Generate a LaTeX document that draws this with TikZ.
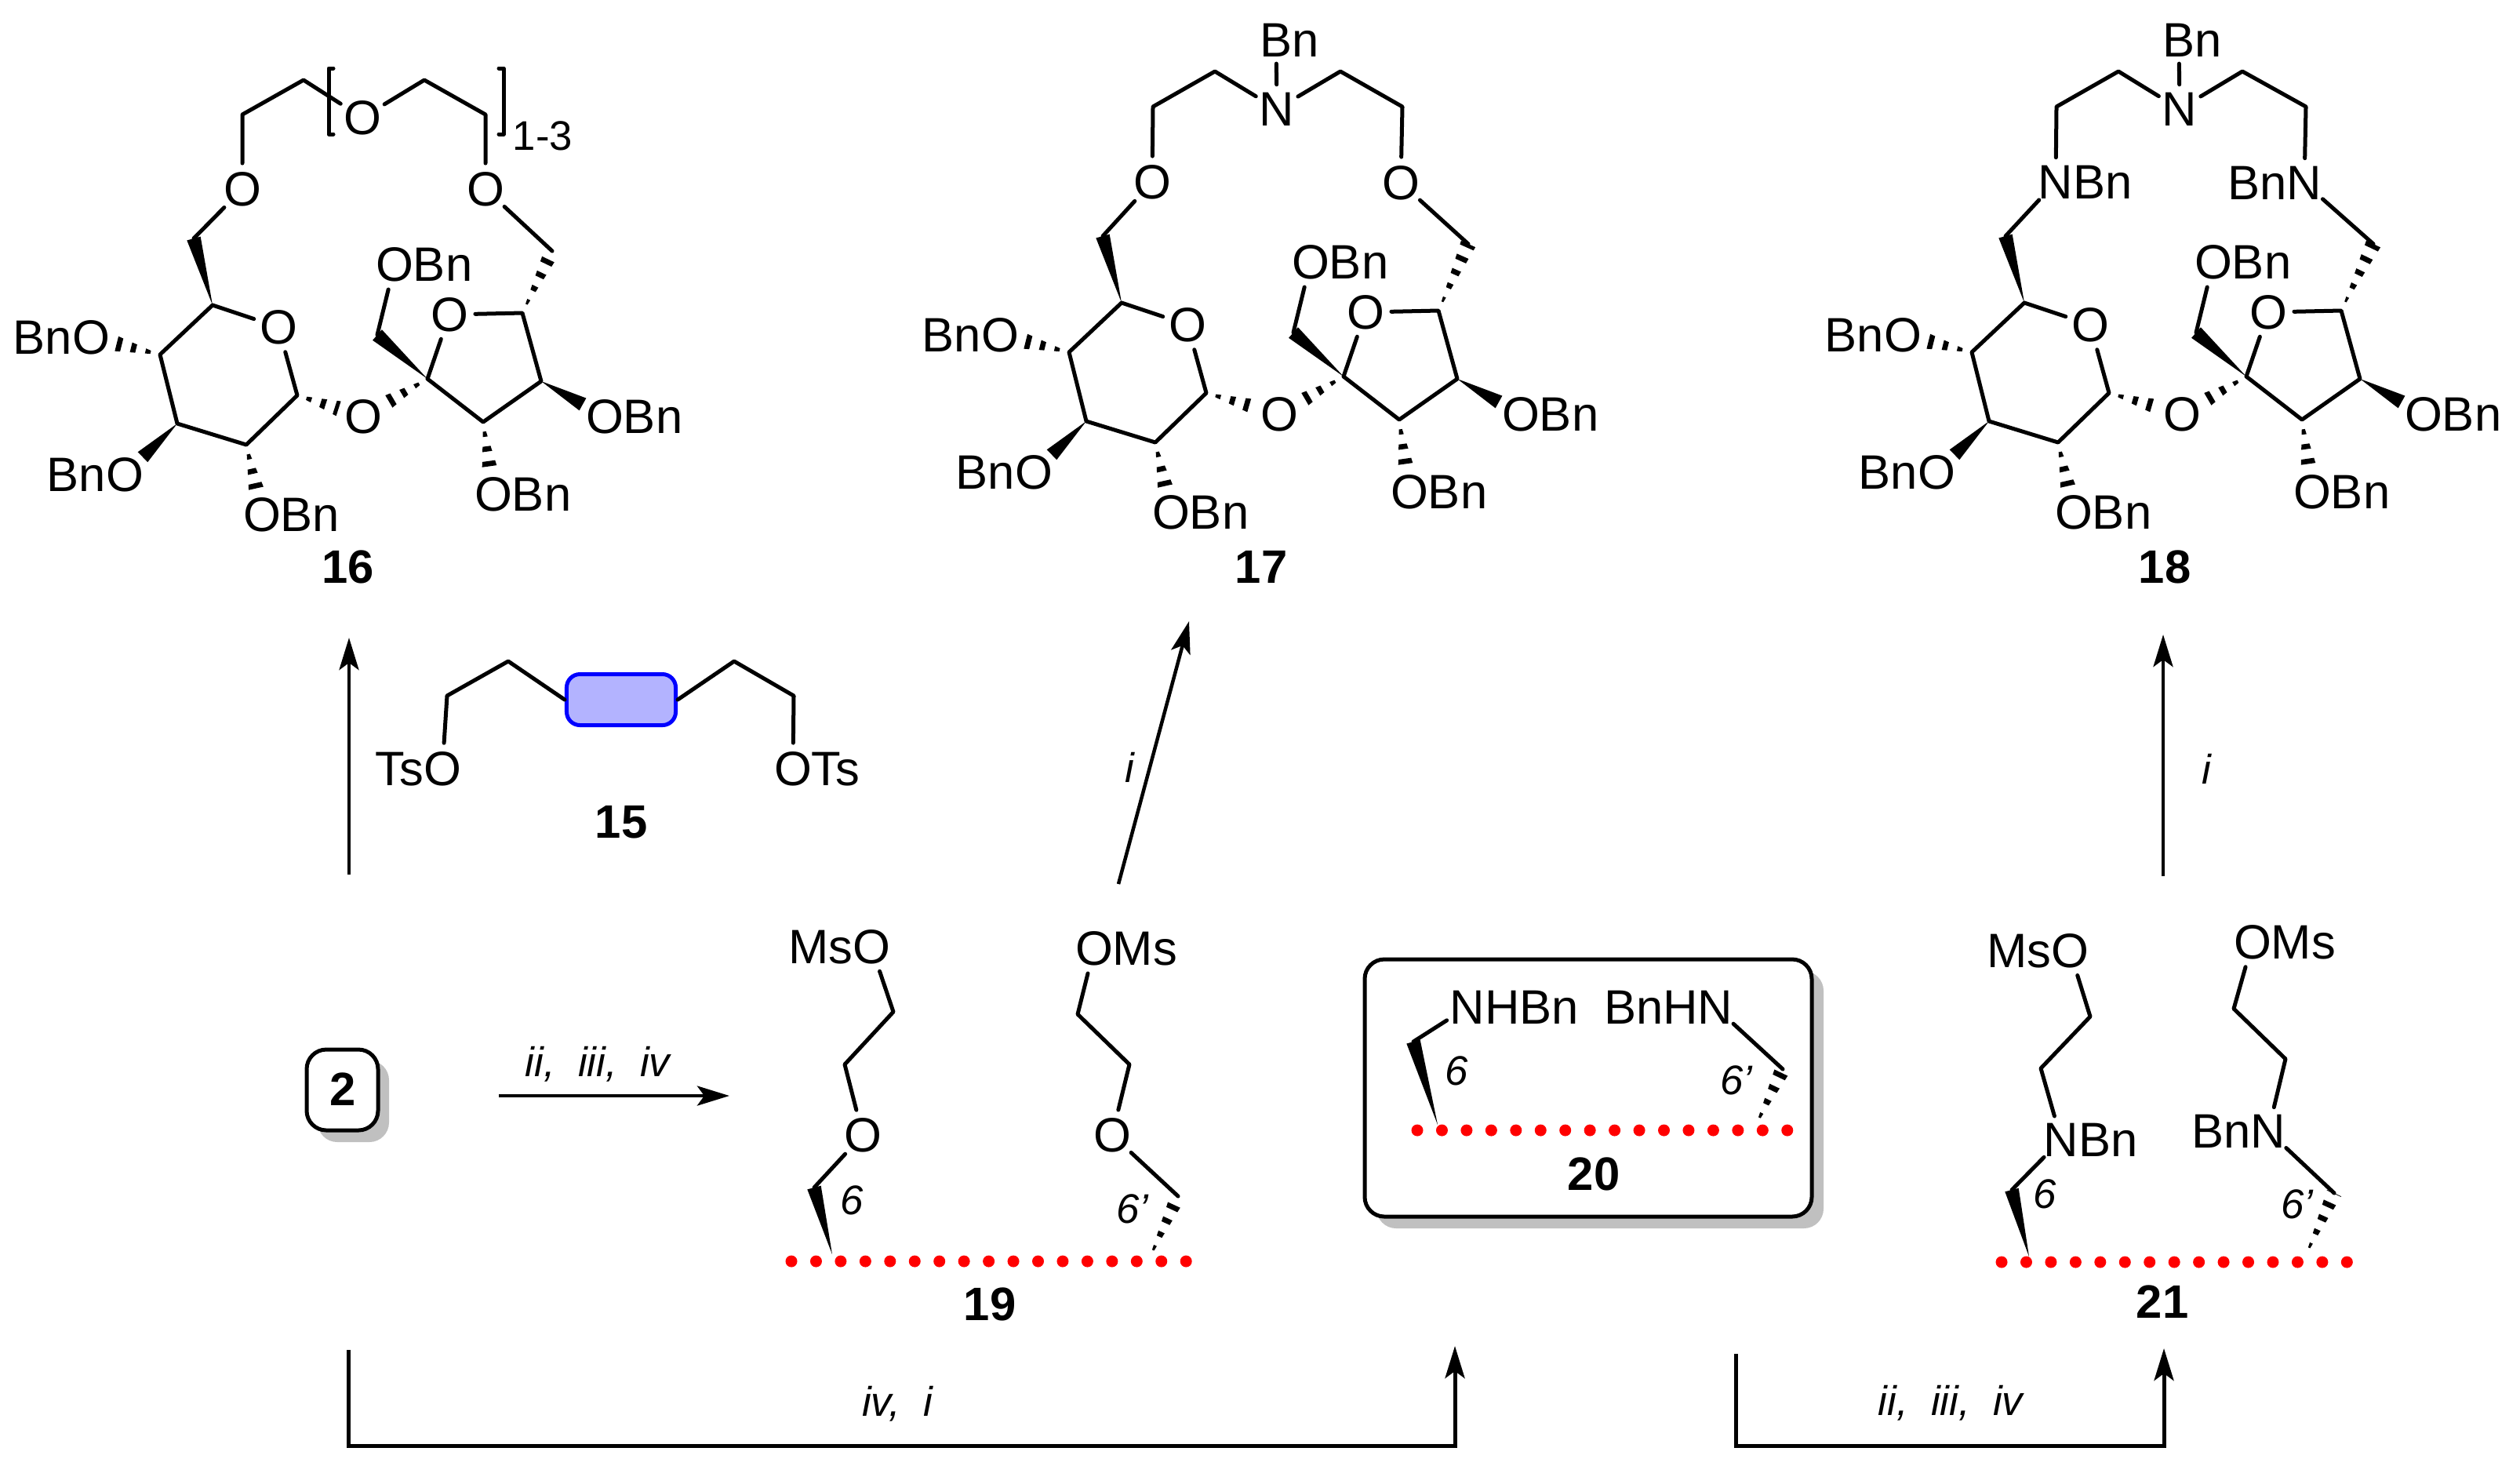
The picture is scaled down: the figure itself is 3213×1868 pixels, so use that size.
\documentclass[tikz,border=0pt]{standalone}
\usepackage{fontspec}
\setmainfont{Liberation Sans}
\usetikzlibrary{calc,arrows.meta}
\definecolor{blobfill}{RGB}{179,179,255}
\definecolor{boxgray}{RGB}{192,192,192}
\tikzset{
	bond/.style={line width=0.05cm,line cap=round,line join=round},
	atom/.style={circle,inner sep=0pt,font=\fontsize{17.5}{21}\selectfont},
	subnum/.style={inner sep=0pt,font=\fontsize{15}{18}\selectfont},
	numlabel/.style={inner sep=0pt,font=\fontsize{17}{20}\selectfont\bfseries},
	note/.style={inner sep=0pt,font=\fontsize{15}{18}\selectfont\itshape},
	reaction/.style={line width=0.045cm,-{Stealth[length=0.41cm,width=0.25cm,inset=0.09cm]}},
	route/.style={line width=0.05cm,line join=miter,-{Stealth[length=0.41cm,width=0.25cm,inset=0.09cm]}},
	framebox/.style={draw,fill=white,line width=0.05cm,rounded corners=0.25cm},
	boxshadow/.style={fill=boxgray,rounded corners=0.25cm},
	blob/.style={draw=blue,fill=blobfill,line width=0.05cm,rounded corners=0.17cm,minimum width=1.39cm,minimum height=0.65cm,inner sep=0pt},
	reddot/.style={fill=red}
}
% narrow end first, then wide end; the optional gap keeps the wide end off an atom
\newcommand\wedgebond[3][0cm]{\fill ($(#3)!#1!(#2)!0.09cm!90:(#2)$) -- ($(#3)!#1!(#2)!0.09cm!-90:(#2)$) -- (#2) -- cycle;}
\newcommand\hashbond[3][0cm]{\begin{scope}
	\clip ($(#3)!#1!(#2)!0.1cm!90:(#2)$) -- ($(#3)!#1!(#2)!0.1cm!-90:(#2)$) -- (#2) -- cycle;
	\draw[line width=0.25cm,dash pattern=on 1.9pt off 3.5pt,dash phase=1.9pt] (#2) -- (#3);
	\end{scope}}
\def\dotrow(#1,#2)#3{\foreach \i in {0,...,#3} \fill[reddot] ({#1+\i*31.45},#2) circle [radius=0.075cm];}
% the disaccharide shared by 16, 17 and 18: six ring, then five ring
\newcommand\sugarcore[4]{\begin{scope}[name prefix=#1-]
	\begin{scope}[shift={(#2)}]
	\coordinate (c1) at (379,504);
	\coordinate (c2) at (314,567);
	\coordinate (c3) at (226,540);
	\coordinate (c4) at (204,452);
	\coordinate (c5) at (271,389);
	\coordinate (c6) at (247,304);
	\node[atom] (o5) at (355,417) {O};
	\node[atom] (o4) at (116,430) {\llap{Bn}O};
	\node[atom] (o3) at (159,605) {\llap{Bn}O};
	\node[atom] (o2) at (334,656) {O\rlap{Bn}};
	\end{scope}
	\begin{scope}[shift={(#3)}]
	\coordinate (f1) at (481,427);
	\coordinate (f2) at (545,483);
	\coordinate (f3) at (616,538);
	\coordinate (f4) at (690,486);
	\coordinate (f5) at (666,399);
	\coordinate (f6) at (#4);
	\node[atom] (of) at (573,401) {O};
	\node[atom] (og) at (463,531) {O};
	\node[atom] (o1) at (503,337) {O\rlap{Bn}};
	\node[atom] (o44) at (771,531) {O\rlap{Bn}};
	\node[atom] (o33) at (629,630) {O\rlap{Bn}};
	\end{scope}
	\draw[bond] (c5) -- (c4) -- (c3) -- (c2) -- (c1) -- (o5) -- (c5);
	\draw[bond] (f2) -- (f3) -- (f4) -- (f5) -- (of) -- (f2);
	\draw[bond] (f1) -- (o1);
	\wedgebond{c5}{c6}
	\wedgebond{f2}{f1}
	\wedgebond[0.32cm]{c3}{o3}
	\wedgebond[0.32cm]{f4}{o44}
	\hashbond{f5}{f6}
	\hashbond[0.32cm]{c4}{o4}
	\hashbond[0.32cm]{c2}{o2}
	\hashbond[0.32cm]{c1}{og}
	\hashbond[0.32cm]{f2}{og}
	\hashbond[0.32cm]{f3}{o33}
	\end{scope}}

\begin{document}
\begin{tikzpicture}[x=0.01cm,y=-0.01cm]
	\useasboundingbox (0,0) rectangle (3213,1868);
	%%%%% top row %%%%%
	\sugarcore{a}{0,0}{0,0}{704,320}
	\node[atom] (a6) at (309,241) {O};
	\node[atom] (a7) at (619,241) {O};
	\node[atom] (am) at (462,150) {O};
	\coordinate (a1) at (309,146);
	\coordinate (a2) at (387,102);
	\coordinate (a3) at (541,102);
	\coordinate (a4) at (619,146);
	\draw[bond] (a-c6) -- (a6) -- (a1) -- (a2) -- (am) -- (a3) -- (a4) -- (a7) -- (a-f6);
	\draw[bond] (425,87) -- (419,87) -- (419,171) -- (425,171);
	\draw[bond] (636,87) -- (642,87) -- (642,171) -- (636,171);
	\node[subnum] (sub) at (692,173) {1-3};
	\node[numlabel] (n16) at (444,723) {16};

	\sugarcore{b}{1159,-3}{1168,-3}{704,314}
	\node[atom] (b6) at (1469,232) {O};
	\node[atom] (b7) at (1786,233) {O};
	\node[atom] (bn) at (1628,139) {N};
	\node[atom] (bt) at (1627,51) {B\rlap{n}};
	\coordinate (b1) at (1470,136);
	\coordinate (b2) at (1549,91);
	\coordinate (b3) at (1709,91);
	\coordinate (b4) at (1788,136);
	\draw[bond] (b-c6) -- (b6) -- (b1) -- (b2) -- (bn) -- (b3) -- (b4) -- (b7) -- (b-f6);
	\draw[bond] (bn) -- (bt);
	\node[numlabel] (n17) at (1608,723) {17};

	\sugarcore{c}{2310,-3}{2319,-3}{707,314}
	\node[atom] (c6) at (2621,232) {N\rlap{Bn}};
	\node[atom] (c7) at (2938,233) {\llap{Bn}N};
	\node[atom] (cn) at (2779,139) {N};
	\node[atom] (ct) at (2778,51) {B\rlap{n}};
	\coordinate (c1) at (2622,136);
	\coordinate (c2) at (2701,91);
	\coordinate (c3) at (2859,91);
	\coordinate (c4) at (2940,136);
	\draw[bond] (c-c6) -- (c6) -- (c1) -- (c2) -- (cn) -- (c3) -- (c4) -- (c7) -- (c-f6);
	\draw[bond] (cn) -- (ct);
	\node[numlabel] (n18) at (2760,723) {18};

	%%%%% tosylate 15 %%%%%
	\node[atom] (ts1) at (564,980) {\llap{Ts}O};
	\node[atom] (ts2) at (1011,980) {O\rlap{Ts}};
	\node[blob] (core) at (792,892) {};
	\coordinate (t1) at (570,887);
	\coordinate (t2) at (648,843);
	\coordinate (t3) at (936,843);
	\coordinate (t4) at (1012,887);
	\draw[bond] (ts1) -- (t1) -- (t2) -- (core.west);
	\draw[bond] (core.east) -- (t3) -- (t4) -- (ts2);
	\node[numlabel] (n15) at (792,1048) {15};

	%%%%% start material %%%%%
	\fill[boxshadow] (405,1352) rectangle (496,1456);
	\draw[framebox] (391,1338) rectangle (482,1441);
	\node[numlabel] (n2) at (437,1389) {2};

	%%%%% mesylate 19 %%%%%
	\node[atom] (m1) at (1111,1207) {\llap{Ms}O};
	\node[atom] (m2) at (1100,1447) {O};
	\node[atom] (m3) at (1395,1209) {O\rlap{Ms}};
	\node[atom] (m4) at (1418,1447) {O};
	\coordinate (m5) at (1139,1290);
	\coordinate (m6) at (1077,1357);
	\coordinate (m7) at (1374,1293);
	\coordinate (m8) at (1440,1357);
	\coordinate (m9) at (1038,1514);
	\coordinate (m10) at (1502,1525);
	\coordinate (m11) at (1061,1599);
	\coordinate (m12) at (1465,1605);
	\draw[bond] (m1) -- (m5) -- (m6) -- (m2) -- (m9);
	\draw[bond] (m3) -- (m7) -- (m8) -- (m4) -- (m10);
	\wedgebond{m11}{m9}
	\hashbond{m12}{m10}
	\dotrow(1009,1608){16}
	\node[note] (m13) at (1086,1530) {6};
	\node[note] (m14) at (1444,1541) {6'};
	\node[numlabel] (n19) at (1262,1663) {19};

	%%%%% amine 20 %%%%%
	\fill[boxshadow] (1755,1238) rectangle (2325,1566);
	\draw[framebox] (1740,1223) rectangle (2310,1551);
	\node[atom] (h1) at (1871,1284) {N\rlap{HBn}};
	\node[atom] (h2) at (2187,1284) {\llap{BnH}N};
	\coordinate (h3) at (1802,1328);
	\coordinate (h4) at (2273,1363);
	\coordinate (h5) at (1833,1434);
	\coordinate (h6) at (2238,1436);
	\draw[bond] (h1) -- (h3);
	\draw[bond] (h2) -- (h4);
	\wedgebond{h5}{h3}
	\hashbond{h6}{h4}
	\dotrow(1807,1441){15}
	\node[note] (h7) at (1857,1365) {6};
	\node[note] (h8) at (2214,1377) {6'};
	\node[numlabel] (n20) at (2032,1497) {20};

	%%%%% mesylate 21 %%%%%
	\node[atom] (k1) at (2639,1212) {\llap{Ms}O};
	\node[atom] (k2) at (2628,1453) {N\rlap{Bn}};
	\node[atom] (k3) at (2872,1201) {O\rlap{Ms}};
	\node[atom] (k4) at (2892,1442) {\llap{Bn}N};
	\coordinate (k5) at (2665,1296);
	\coordinate (k6) at (2602,1362);
	\coordinate (k7) at (2848,1286);
	\coordinate (k8) at (2914,1350);
	\coordinate (k9) at (2565,1517);
	\coordinate (k10) at (2976,1521);
	\coordinate (k11) at (2587,1602);
	\coordinate (k12) at (2939,1602);
	\draw[bond] (k1) -- (k5) -- (k6) -- (k2) -- (k9);
	\draw[bond] (k3) -- (k7) -- (k8) -- (k4) -- (k10);
	\wedgebond{k11}{k9}
	\hashbond{k12}{k10}
	\dotrow(2552,1609){14}
	\node[note] (k13) at (2607,1522) {6};
	\node[note] (k14) at (2929,1535) {6'};
	\node[numlabel] (n21) at (2757,1660) {21};

	%%%%% arrows %%%%%
	\coordinate (s16) at (445,1115);
	\coordinate (e16) at (445,813);
	\coordinate (s17) at (1426,1127);
	\coordinate (e17) at (1516,792);
	\coordinate (s18) at (2758,1117);
	\coordinate (e18) at (2758,809);
	\coordinate (s19) at (636,1397);
	\coordinate (e19) at (930,1397);
	\coordinate (s20) at (444,1721);
	\coordinate (e20) at (1855,1716);
	\coordinate (s21) at (2213,1726);
	\coordinate (e21) at (2759,1719);
	\draw[reaction] (s16) -- (e16);
	\draw[reaction] (s17) -- (e17);
	\draw[reaction] (s18) -- (e18);
	\draw[reaction] (s19) -- (e19);
	\draw[route] (s20) |- ($(e20)+(0,127)$) -- (e20);
	\draw[route] (s21) |- ($(e21)+(0,124)$) -- (e21);
	\node[note] (r17) at (1440,978) {i};
	\node[note] (r18) at (2813,980) {i};
	\node[note] (r19) at (762,1357) {ii,\ \ iii,\ \ iv};
	\node[note] (r20) at (1144,1790) {iv,\ \ i};
	\node[note] (r21) at (2487,1789) {ii,\ \ iii,\ \ iv};
\end{tikzpicture}
\end{document}
